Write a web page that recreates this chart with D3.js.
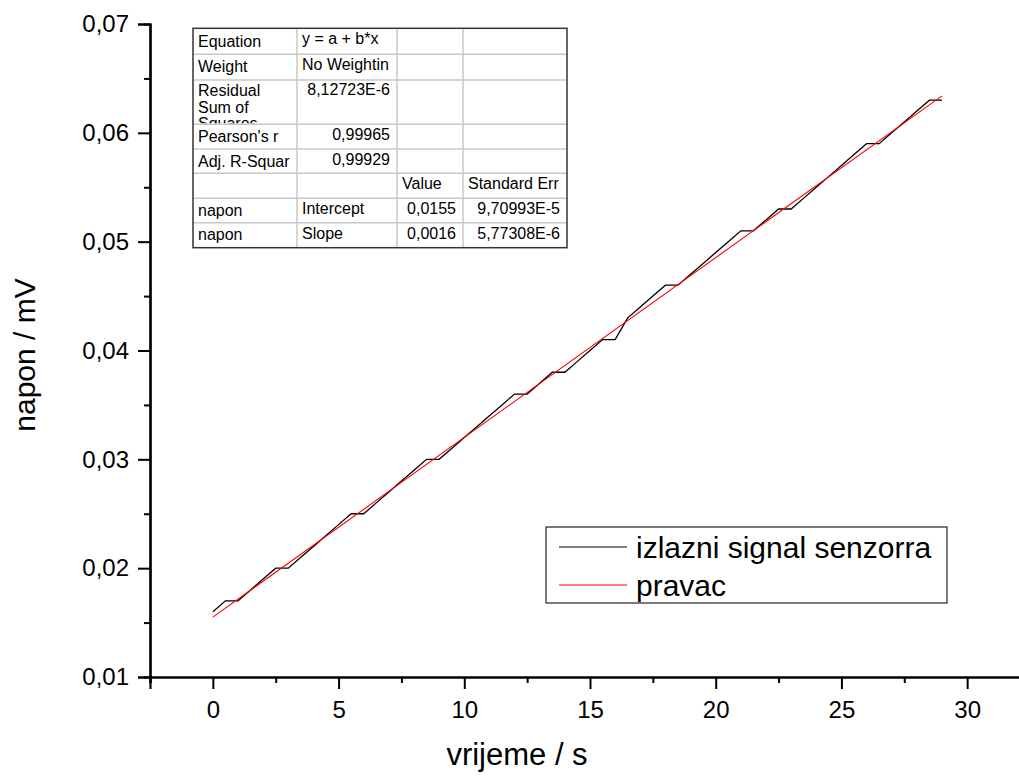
<!DOCTYPE html>
<html><head><meta charset="utf-8">
<script src="https://cdn.jsdelivr.net/npm/d3@7"></script>
<style>html,body{margin:0;padding:0;background:#fff;} svg{display:block;font-family:"Liberation Sans",Arial,sans-serif;}</style>
</head><body>
<svg id="c" width="1019" height="776"></svg>
<script>
// time in seconds
const timeS = [0,0.5,1,1.5,2,2.5,3,3.5,4,4.5,5,5.5,6,6.5,7,7.5,8,8.5,9,9.5,10,10.5,11,11.5,12,12.5,13,13.5,14,14.5,15,15.5,16,16.5,17,17.5,18,18.5,19,19.5,20,20.5,21,21.5,22,22.5,23,23.5,24,24.5,25,25.5,26,26.5,27,27.5,28,28.5,29];
// sensor output (mV)
const signalMV = [0.016,0.017,0.017,0.018,0.019,0.020,0.020,0.021,0.022,0.023,0.024,0.025,0.025,0.026,0.027,0.028,0.029,0.030,0.030,0.031,0.032,0.033,0.034,0.035,0.036,0.036,0.037,0.038,0.038,0.039,0.040,0.041,0.041,0.043,0.044,0.045,0.046,0.046,0.047,0.048,0.049,0.050,0.051,0.051,0.052,0.053,0.053,0.054,0.055,0.056,0.057,0.058,0.059,0.059,0.060,0.061,0.062,0.063,0.063];
// fitted line endpoints
const fitX = [0, 29];
const fitY = [0.0155, 0.0634];
const xTicks = [0,5,10,15,20,25,30];
const xMinor = [-2.5,2.5,7.5,12.5,17.5,22.5,27.5,32.5];
const yTicks = [0.01,0.02,0.03,0.04,0.05,0.06,0.07];
const yMinor = [0.015,0.025,0.035,0.045,0.055,0.065];
const legendLabels = ["izlazni signal senzorra", "pravac"];
const tableRows = [
  ["Equation","y = a + b*x","",""],
  ["Weight","No Weightin","",""],
  ["Residual\nSum of\nSquares","8,12723E-6","",""],
  ["Pearson's r","0,99965","",""],
  ["Adj. R-Squar","0,99929","",""],
  ["","","Value","Standard Err"],
  ["napon","Intercept","0,0155","9,70993E-5"],
  ["napon","Slope","0,0016","5,77308E-6"]
];

const svg = d3.select("#c");
const x = d3.scaleLinear().domain([-2.5, 32.5]).range([150, 1030]);
const y = d3.scaleLinear().domain([0.01, 0.07]).range([677, 24]);

// minor ticks
const gx = svg.append("g").attr("transform","translate(0,677)");
gx.call(d3.axisBottom(x).tickValues(xMinor).tickSize(6).tickFormat(""));
const gx2 = svg.append("g").attr("transform","translate(0,677)");
gx2.call(d3.axisBottom(x).tickValues(xTicks).tickSize(12).tickPadding(10).tickFormat(d3.format("d")));
const gy = svg.append("g").attr("transform","translate(150,0)");
gy.call(d3.axisLeft(y).tickValues(yMinor).tickSize(6).tickFormat(""));
const gy2 = svg.append("g").attr("transform","translate(150,0)");
gy2.call(d3.axisLeft(y).tickValues(yTicks).tickSize(12).tickPadding(9).tickFormat(d => d3.format(".2f")(d).replace(".", ",")));
svg.selectAll(".domain").attr("stroke","#000").attr("stroke-width",2.2);
svg.selectAll(".tick line").attr("stroke","#000").attr("stroke-width",2);
svg.selectAll(".tick text").attr("font-size",24).attr("fill","#000").attr("font-family","Liberation Sans, Arial, sans-serif");
gx2.selectAll(".tick text").attr("dy","0.8em");

// axis titles
svg.append("text").attr("x",517).attr("y",765).attr("text-anchor","middle").attr("font-size",31).text("vrijeme / s");
svg.append("text").attr("transform","translate(35,355) rotate(-90)").attr("text-anchor","middle").attr("font-size",30).text("napon / mV");

// data line
const pts = timeS.map((t,i)=>[t, signalMV[i]]);
svg.append("path").datum(pts).attr("fill","none").attr("stroke","#000").attr("stroke-width",1.3)
  .attr("d", d3.line().x(d=>x(d[0])).y(d=>y(d[1])));
// fit line
svg.append("path").datum(fitX.map((v,i)=>[v, fitY[i]])).attr("fill","none").attr("stroke","#ff0000").attr("stroke-width",1.1)
  .attr("d", d3.line().x(d=>x(d[0])).y(d=>y(d[1])));

// table
const colX = [193, 297, 397, 463, 567];
const rowY = [28.3, 54.3, 80, 124.3, 149, 173.3, 198.3, 222.7, 247.7];
const tg = svg.append("g");
tg.append("rect").attr("x",colX[0]).attr("y",rowY[0]).attr("width",colX[4]-colX[0]).attr("height",rowY[8]-rowY[0]).attr("fill","#fff");
rowY.slice(1,-1).forEach(yy => tg.append("line").attr("x1",colX[0]).attr("x2",colX[4]).attr("y1",yy).attr("y2",yy).attr("stroke","#c8c8c8").attr("stroke-width",1.5));
colX.slice(1,-1).forEach(xx => tg.append("line").attr("x1",xx).attr("x2",xx).attr("y1",rowY[0]).attr("y2",rowY[8]).attr("stroke","#c8c8c8").attr("stroke-width",1.5));
tg.append("rect").attr("x",colX[0]).attr("y",rowY[0]).attr("width",colX[4]-colX[0]).attr("height",rowY[8]-rowY[0]).attr("fill","none").attr("stroke","#333").attr("stroke-width",1.5);
const defs = svg.append("defs");
tableRows.forEach((row, r) => {
  row.forEach((cell, c) => {
    if (!cell) return;
    const id = `clip${r}_${c}`;
    defs.append("clipPath").attr("id", id).append("rect")
      .attr("x", colX[c]+1).attr("y", rowY[r]+1).attr("width", colX[c+1]-colX[c]-2).attr("height", rowY[r+1]-rowY[r]-2);
    const isNum = /^[0-9]/.test(cell);
    const t = tg.append("text").attr("clip-path", `url(#${id})`).attr("font-size",16).attr("fill","#000");
    const base = rowY[r] + (c === 0 ? (r === 0 ? 19 : 17.5) : 16) - (r === 2 ? 1.5 : 0);
    if (isNum) t.attr("x", colX[c+1]-7).attr("text-anchor","end");
    else t.attr("x", colX[c]+5);
    cell.split("\n").forEach((ln, k) => {
      t.append("tspan").attr("x", isNum ? colX[c+1]-7 : colX[c]+5).attr("y", base + k*16.5).text(ln);
    });
  });
});

// legend
const lg = svg.append("g");
lg.append("rect").attr("x",546).attr("y",527).attr("width",401).attr("height",76).attr("fill","#fff").attr("stroke","#222").attr("stroke-width",1.2);
const legColors = ["#000","#ff0000"];
legendLabels.forEach((lab,i) => {
  const yy = 547 + i*38;
  lg.append("line").attr("x1",559).attr("x2",627).attr("y1",yy).attr("y2",yy).attr("stroke",legColors[i]).attr("stroke-width",1.2);
  lg.append("text").attr("x",636).attr("y",yy+10.5).attr("font-size",30).attr("fill","#000").text(lab);
});
</script>
</body></html>
